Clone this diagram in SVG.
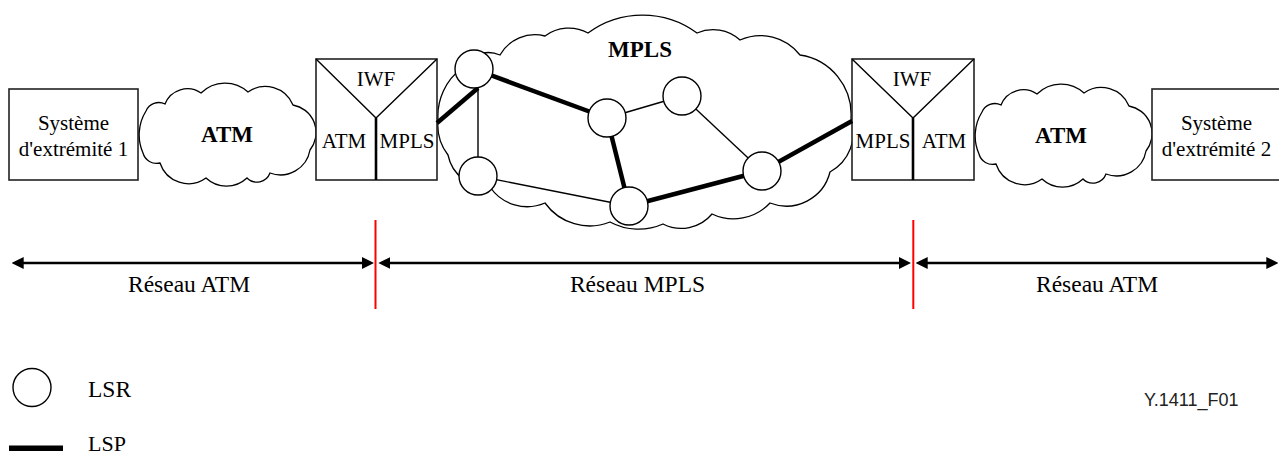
<svg xmlns="http://www.w3.org/2000/svg" xmlns:xlink="http://www.w3.org/1999/xlink" width="1279" height="457" viewBox="0 0 1279 457">
<style>
.box{fill:#fff;stroke:#222;stroke-width:1.6}
.cloud{fill:#fff;stroke:#000;stroke-width:1.3}
.thin{stroke:#000;stroke-width:1.4;fill:none}
.thick{stroke:#000;stroke-width:4.5;fill:none}
.lsr{fill:#fff;stroke:#000;stroke-width:1.4}
.div{stroke:#000;stroke-width:2.6}
.red{stroke:#f00;stroke-width:2}
.arr{stroke:#000;stroke-width:2.6;marker-start:url(#ah);marker-end:url(#ah)}
.t{font-family:"Liberation Serif","Times New Roman",serif;fill:#000;text-anchor:middle}
.s21{font-size:21px}
.s23{font-size:23.5px}
.b{font-size:23px;font-weight:bold}
.code{font-family:"Liberation Sans",Arial,sans-serif;font-size:18px;fill:#222}
</style>
<defs>
<marker id="ah" markerUnits="userSpaceOnUse" markerWidth="12" markerHeight="12" refX="2" refY="6" orient="auto-start-reverse">
<path d="M0,0 L12,6 L0,12 z" fill="#000"/>
</marker>
<path id="atmcloud" class="cloud" d="M143,153 A45,45 0 0 1 146,111 A14,14 0 0 1 165,104 A24,24 0 0 1 201,93 A34,34 0 0 1 248,92 A30,30 0 0 1 293,105 A28,28 0 0 1 310,150 A30,30 0 0 1 270,173 A14,14 0 0 1 247,178 A30,30 0 0 1 206,178 A30,30 0 0 1 160,163 A14,14 0 0 1 143,153 Z"/>
</defs>

<g id="sys1">
<rect class="box" x="9" y="89" width="129" height="91"/>
<text class="t s21" x="73.5" y="130">Système</text>
<text class="t s21" x="73.5" y="156">d'extrémité 1</text>
</g>

<g id="atm-cloud-1">
<use xlink:href="#atmcloud"/>
<text class="t b" x="227" y="142">ATM</text>
</g>

<g id="mpls-cloud">
<path class="cloud" d="M438,120 A60,60 0 0 1 462,68 A30,30 0 0 1 500,55 A40,40 0 0 1 545,36 A40,40 0 0 1 588,33 A92,92 0 0 1 697,33 A40,40 0 0 1 740,40 A50,50 0 0 1 800,55 A60,60 0 0 1 851,118 A45,45 0 0 1 830,172 A45,45 0 0 1 770,203 A50,50 0 0 1 712,214 A40,40 0 0 1 663,224 A60,60 0 0 1 610,222 A55,55 0 0 1 545,203 A45,45 0 0 1 490,187 A40,40 0 0 1 448,155 A50,50 0 0 1 438,120 Z"/>
<text class="t b" x="640" y="57">MPLS</text>
</g>

<g id="iwf-1">
<rect class="box" x="316" y="59" width="121" height="121"/>
<path class="thin" d="M316,59 L376,118 L437,59"/>
<line class="div" x1="376" y1="118" x2="376" y2="180"/>
<text class="t s21" x="376" y="86">IWF</text>
<text class="t s21" x="344" y="148">ATM</text>
<text class="t s21" x="407" y="148">MPLS</text>
</g>

<g id="iwf-2">
<rect class="box" x="852" y="59" width="122" height="121"/>
<path class="thin" d="M852,59 L913,118 L974,59"/>
<line class="div" x1="913" y1="118" x2="913" y2="180"/>
<text class="t s21" x="912" y="86">IWF</text>
<text class="t s21" x="883" y="148">MPLS</text>
<text class="t s21" x="944" y="148">ATM</text>
</g>

<g id="atm-cloud-2">
<use xlink:href="#atmcloud" transform="translate(836,1)"/>
<text class="t b" x="1061" y="143">ATM</text>
</g>

<g id="sys2">
<rect class="box" x="1152" y="89" width="129" height="91"/>
<text class="t s21" x="1216.5" y="130">Système</text>
<text class="t s21" x="1216.5" y="156">d'extrémité 2</text>
</g>

<g id="connectors">
<line class="thick" x1="437" y1="123" x2="478" y2="88"/>
<line class="thin" x1="478" y1="88" x2="478" y2="176"/>
<line class="thick" x1="474" y1="69" x2="607" y2="118"/>
<line class="thin" x1="607" y1="118" x2="682" y2="96"/>
<line class="thin" x1="682" y1="96" x2="762" y2="171"/>
<line class="thick" x1="607" y1="118" x2="629" y2="206"/>
<line class="thin" x1="478" y1="176" x2="629" y2="206"/>
<line class="thick" x1="629" y1="206" x2="762" y2="171"/>
<line class="thick" x1="762" y1="171" x2="852" y2="121"/>
<line class="arr" x1="21.7" y1="263" x2="364" y2="263"/>
<line class="arr" x1="388.3" y1="263" x2="901" y2="263"/>
<line class="arr" x1="925.7" y1="263" x2="1268.3" y2="263"/>
<line class="red" x1="375.5" y1="220" x2="375.5" y2="309"/>
<line class="red" x1="913.3" y1="220" x2="913.3" y2="309"/>
</g>

<g id="lsr-1"><circle class="lsr" cx="474" cy="69" r="19"/></g>
<g id="lsr-2"><circle class="lsr" cx="478" cy="176" r="19"/></g>
<g id="lsr-3"><circle class="lsr" cx="607" cy="118" r="19"/></g>
<g id="lsr-4"><circle class="lsr" cx="682" cy="96" r="19"/></g>
<g id="lsr-5"><circle class="lsr" cx="629" cy="206" r="19"/></g>
<g id="lsr-6"><circle class="lsr" cx="762" cy="171" r="19"/></g>

<g id="labels">
<text class="t s23" x="189" y="292">Réseau ATM</text>
<text class="t s23" x="637.5" y="292">Réseau MPLS</text>
<text class="t s23" x="1097" y="292">Réseau ATM</text>
</g>

<g id="legend">
<circle class="lsr" cx="32" cy="387.5" r="19"/>
<text class="t s23" x="88" y="397" style="text-anchor:start">LSR</text>
<rect x="9" y="445.5" width="54" height="5.5" fill="#000"/>
<text class="t" x="88" y="451" style="text-anchor:start;font-size:22px">LSP</text>
<text class="code" x="1144" y="406">Y.1411_F01</text>
</g>
</svg>
